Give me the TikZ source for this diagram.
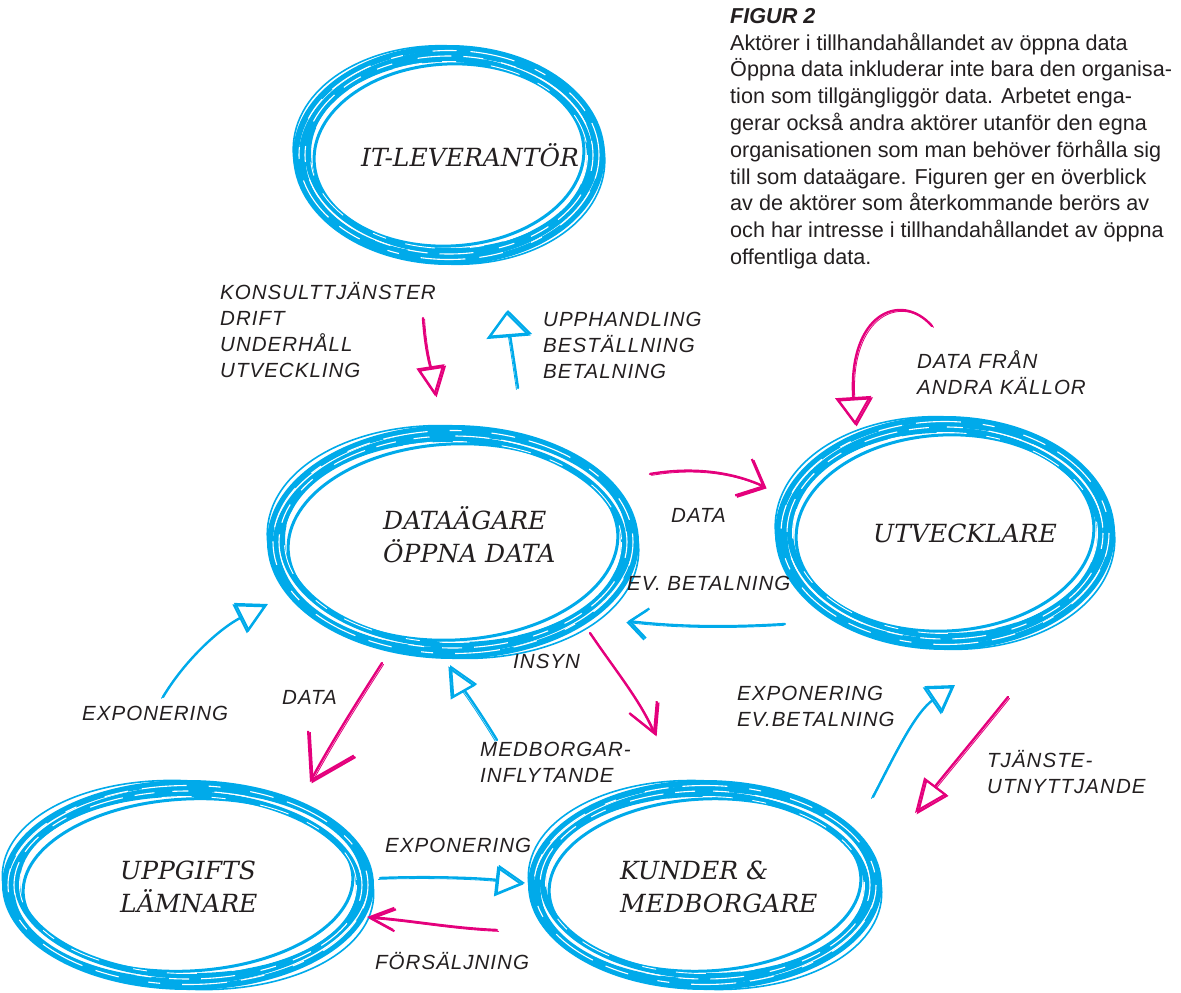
\documentclass[tikz,border=0pt]{standalone}
\usepackage{fontspec}
\setmainfont{Liberation Sans}
\newfontfamily\ringfont{DejaVu Serif}
\newfontfamily\handfont[LetterSpace=5]{Liberation Sans}
\usetikzlibrary{arrows.meta}
\definecolor{bluec}{RGB}{0,170,234}
\definecolor{pinkc}{RGB}{228,0,124}
\definecolor{inkc}{RGB}{35,31,32}
\tikzset{
  ringstroke/.style={draw=bluec},
  streak/.style={draw=white, line width=1.1},
  ringtext/.style={font=\ringfont\itshape\fontsize{25}{33}\selectfont, text=inkc, align=left, inner sep=0},
  handtext/.style={font=\handfont\itshape\fontsize{20.5}{26}\selectfont, text=inkc, align=left, inner sep=0, anchor=west},
  captext/.style={font=\fontsize{21.6}{26.8}\selectfont, text=inkc, align=left, inner sep=0, anchor=north west},
  pinkarrow/.style={draw=pinkc, line width=2.4, line cap=round,
    postaction={draw=pinkc, line width=0.8, transform canvas={shift={(1.6,1.4)}}}},
  bluearrow/.style={draw=bluec, line width=2.4, line cap=round,
    postaction={draw=bluec, line width=0.8, transform canvas={shift={(-1.6,1.4)}}}},
  openhead/.style args={#1/#2}{-{Triangle[open, length=#1pt, width=#2pt, line width=2pt]}},
  barbhead/.style args={#1/#2}{-{Straight Barb[length=#1pt, width=#2pt, line width=2.2pt]}},
}
\newcommand\brushring[3]{%
  \draw[ringstroke, line width=6] (#1) ellipse [x radius=#2-3, y radius=#3-3];
  \draw[ringstroke, line width=7, rotate around={2:(#1)}] (#1) ellipse [x radius=#2-9, y radius=#3-8.5];
  \draw[ringstroke, line width=6, rotate around={-1.5:(#1)}] (#1) ellipse [x radius=#2-15, y radius=#3-14];
  \draw[ringstroke, line width=3, rotate around={3:(#1)}] (#1) ellipse [x radius=#2-21, y radius=#3-19];
  \draw[ringstroke, line width=1.6, rotate around={-4:(#1)}] (#1) ellipse [x radius=#2, y radius=#3-1];
  \draw[streak, dash pattern=on 24pt off 14pt on 45pt off 22pt on 12pt off 30pt] (#1) ellipse [x radius=#2-6, y radius=#3-5.5];
  \draw[streak, dash pattern=on 16pt off 26pt on 34pt off 12pt on 20pt off 18pt] (#1) ellipse [x radius=#2-12, y radius=#3-11];
  \draw[streak, line width=0.9, dash pattern=on 30pt off 20pt on 14pt off 35pt] (#1) ellipse [x radius=#2-17.5, y radius=#3-16.5];
}
\begin{document}
\begin{tikzpicture}[x=1pt,y=-1pt]
\useasboundingbox (0,0) rectangle (1181,993);

% ring centres
\coordinate (itc) at (449,155);
\coordinate (dac) at (453,542);
\coordinate (utc) at (945,533);
\coordinate (upc) at (188,885);
\coordinate (kuc) at (705,885);

\brushring{itc}{156}{110}
\brushring{dac}{186}{117}
\brushring{utc}{170}{117}
\brushring{upc}{186}{105}
\brushring{kuc}{177}{105}

% ring texts
\node[ringtext] (it) at (470,155) {IT-LEVERANTÖR};
\node[ringtext, anchor=west] (da) at (383,535) {DATAÄGARE\\ÖPPNA DATA};
\node[ringtext] (ut) at (965,533) {UTVECKLARE};
\node[ringtext, anchor=west] (up) at (120,887) {UPPGIFTS\\LÄMNARE};
\node[ringtext, anchor=west] (ku) at (620,887) {KUNDER \&\\MEDBORGARE};

% caption
\node[captext] (cap) at (730,8) {{\bfseries\itshape FIGUR 2}\\
Aktörer i tillhandahållandet av öppna data\\
Öppna data inkluderar inte bara den organisa-\\
tion som tillgängliggör data. Arbetet enga-\\
gerar också andra aktörer utanför den egna\\
organisationen som man behöver förhålla sig\\
till som dataägare. Figuren ger en överblick\\
av de aktörer som återkommande berörs av\\
och har intresse i tillhandahållandet av öppna\\
offentliga data.};

% hand labels
\node[handtext] (l1) at (220,330) {KONSULTTJÄNSTER\\DRIFT\\UNDERHÅLL\\UTVECKLING};
\node[handtext] (l2) at (543,345) {UPPHANDLING\\BESTÄLLNING\\BETALNING};
\node[handtext] (l3) at (917,373) {DATA FRÅN\\ANDRA KÄLLOR};
\node[handtext] (l4) at (671,515) {DATA};
\node[handtext] (l5) at (627,583) {EV. BETALNING};
\node[handtext] (l6) at (82,713) {EXPONERING};
\node[handtext] (l7) at (282,697) {DATA};
\node[handtext] (l8) at (513,661) {INSYN};
\node[handtext] (l9) at (480,762) {MEDBORGAR-\\INFLYTANDE};
\node[handtext] (l10) at (737,706) {EXPONERING\\EV.BETALNING};
\node[handtext] (l11) at (987,772) {TJÄNSTE-\\UTNYTTJANDE};
\node[handtext] (l12) at (385,845) {EXPONERING};
\node[handtext] (l13) at (375,961) {FÖRSÄLJNING};

% arrow end points
\coordinate (a1s) at (423,318); \coordinate (a1e) at (435,396);
\coordinate (a2s) at (518,388); \coordinate (a2e) at (508,310);
\coordinate (a3s) at (932,326); \coordinate (a3e) at (855,425);
\coordinate (a4s) at (650,474); \coordinate (a4e) at (765,487);
\coordinate (a5s) at (785,624); \coordinate (a5e) at (628,621);
\coordinate (a6s) at (163,697); \coordinate (a6e) at (268,604);
\coordinate (a7s) at (382,663); \coordinate (a7e) at (310,782);
\coordinate (a8s) at (497,740); \coordinate (a8e) at (450,665);
\coordinate (a9s) at (590,633); \coordinate (a9e) at (655,735);
\coordinate (a10s) at (873,797); \coordinate (a10e) at (955,685);
\coordinate (a11s) at (1008,697); \coordinate (a11e) at (915,813);
\coordinate (a12s) at (380,878); \coordinate (a12e) at (525,883);
\coordinate (a13s) at (497,930); \coordinate (a13e) at (367,917);

% arrows
\draw[pinkarrow, openhead=30/28] (a1s) .. controls (425,350) and (431,370) .. (a1e);
\draw[bluearrow, openhead=26/44] (a2s) .. controls (514,360) and (510,335) .. (a2e);
\draw[pinkarrow, openhead=28/36] (a3s) .. controls (900,290) and (848,315) .. (a3e);
\draw[pinkarrow, barbhead=22/40] (a4s) .. controls (690,467) and (730,471) .. (a4e);
\draw[bluearrow, barbhead=18/30] (a5s) .. controls (720,628) and (670,626) .. (a5e);
\draw[bluearrow, openhead=30/32] (a6s) .. controls (185,660) and (220,628) .. (a6e);
\draw[pinkarrow, barbhead=42/52] (a7s) .. controls (355,705) and (330,745) .. (a7e);
\draw[bluearrow, openhead=30/28] (a8s) .. controls (480,712) and (463,688) .. (a8e);
\draw[pinkarrow, barbhead=28/30] (a9s) .. controls (615,670) and (640,700) .. (a9e);
\draw[bluearrow, openhead=26/32] (a10s) .. controls (895,755) and (915,712) .. (a10e);
\draw[pinkarrow, openhead=34/28] (a11s) .. controls (975,738) and (940,780) .. (a11e);
\draw[bluearrow, openhead=28/30] (a12s) .. controls (430,876) and (480,878) .. (a12e);
\draw[pinkarrow, barbhead=24/22] (a13s) .. controls (450,928) and (410,920) .. (a13e);
\end{tikzpicture}
\end{document}
